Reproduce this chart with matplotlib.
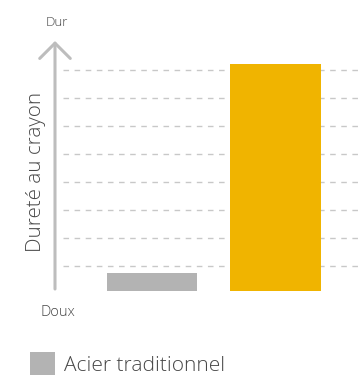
import matplotlib
matplotlib.use("Agg")
import matplotlib.pyplot as plt
from matplotlib.patches import Patch

# Data
categories = ["Acier traditionnel", "Nouveau revêtement"]
hardness = [0.75, 8.2]
bar_colors = ["#b3b3b3", "#f0b400"]
grid_levels = [1, 2, 3, 4, 5, 6, 7, 8]
axis_label = "Dureté au crayon"
top_label = "Dur"
bottom_label = "Doux"

W, H, DPI = 358, 381, 100
fig = plt.figure(figsize=(W / DPI, H / DPI), dpi=DPI)
fig.patch.set_facecolor("white")

# Axes placed in pixel terms
left_px, right_px, bottom_px, top_px = 55, 358, H - 294, H - 42
ax = fig.add_axes([left_px / W, bottom_px / H, (right_px - left_px) / W, (top_px - bottom_px) / H])
ax.set_xlim(-0.785, 1.668)
ax.set_ylim(0, 9)
for s in ax.spines.values():
    s.set_visible(False)
ax.set_xticks([])
ax.set_yticks([])

# Dashed guide lines
ax.hlines(grid_levels, -0.72, 1.668, colors="#c8c8c8", linestyles=(0, (4, 4)), linewidth=1.0, zorder=1)

# Bars rise from a baseline slightly above zero
base = 0.1
x = list(range(len(categories)))
bars = ax.bar(x, [v - base for v in hardness], width=0.73, bottom=base, color=bar_colors, zorder=2)

# Vertical arrow axis
ax.annotate("", xy=(55, H - 41), xytext=(55, H - 289), xycoords="figure pixels",
            textcoords="figure pixels",
            arrowprops=dict(arrowstyle="->,head_length=0.55,head_width=0.55",
                            mutation_scale=20, color="#bdbdbd", lw=2.2,
                            shrinkA=0, shrinkB=0))

txt_color = "#474747"
fam = "Open Sans"
fig.text(57 / W, 1 - 22 / H, top_label, ha="center", va="center", fontsize=9.5,
         color=txt_color, family=fam, fontweight="light")
fig.text(58 / W, 1 - 313 / H, bottom_label, ha="center", va="center", fontsize=10.5,
         color=txt_color, family=fam, fontweight="light")
fig.text(36 / W, 1 - 172 / H, axis_label, ha="center", va="center", rotation=90,
         fontsize=14.8, color=txt_color, family=fam, fontweight="light")

# Legend
handle = Patch(facecolor=bar_colors[0], edgecolor="none")
fig.legend([handle], [categories[0]], loc="center left",
           bbox_to_anchor=(30 / W, 1 - 364 / H), frameon=False,
           prop={"family": fam, "size": 15, "weight": "light"}, labelcolor=txt_color,
           handlelength=1.2, handleheight=1.25, handletextpad=0.45, borderpad=0,
           borderaxespad=0)

fig.savefig("out.png", dpi=DPI)
